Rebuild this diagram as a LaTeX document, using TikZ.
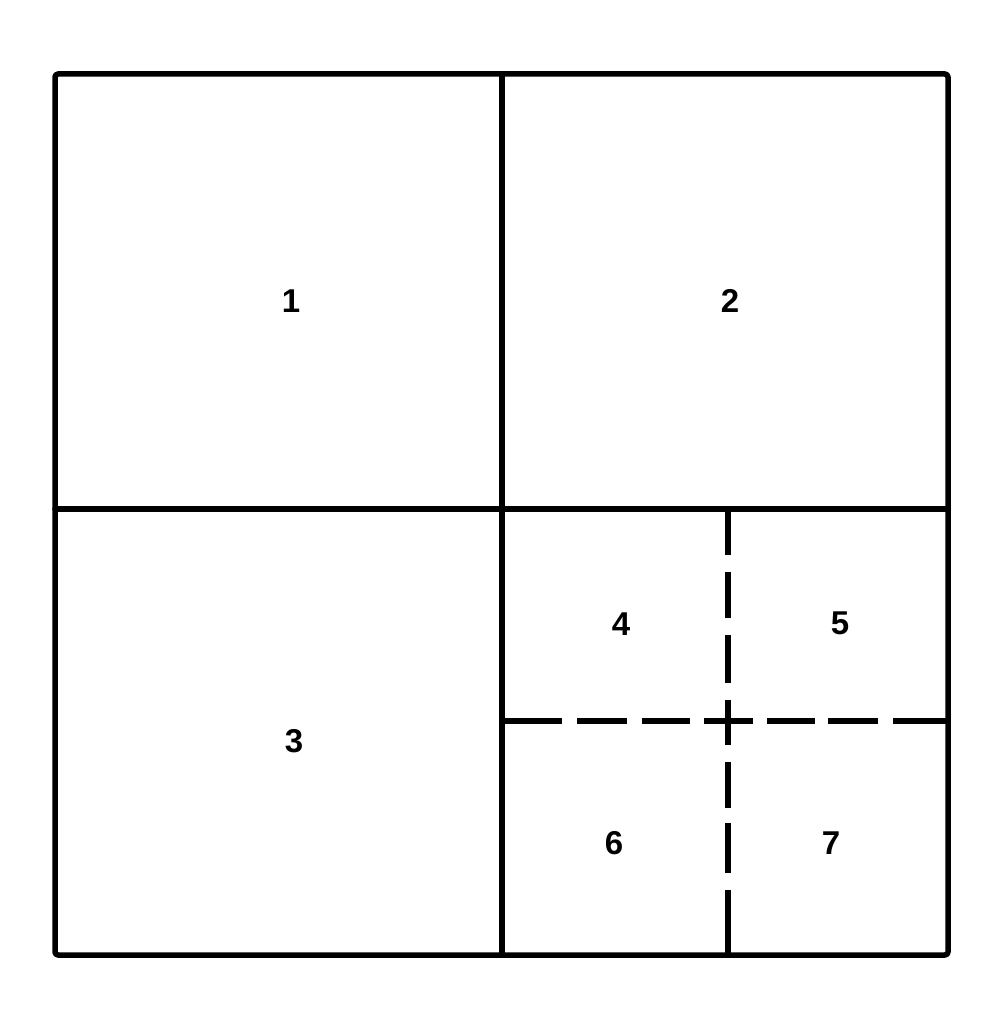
\documentclass[tikz,border=0pt]{standalone}
\usepackage{fontspec}
\setmainfont{Liberation Sans}
\usepackage{tikz}

\begin{document}
\begin{tikzpicture}[x=1pt,y=-1pt,line width=5.5pt,line cap=round,line join=round,
  wall/.style={draw=black},
  cutv/.style={draw=black,dash pattern=on 45pt off 17pt on 46pt off 17pt on 48pt off 17pt on 45pt off 17pt on 46pt off 15pt on 50pt off 17pt on 70pt off 1pt},
  cuth/.style={draw=black,dash pattern=on 57pt off 15pt on 50pt off 15pt on 48pt off 14pt on 49pt off 14pt on 48pt off 13pt on 50pt off 15pt on 60pt off 1pt},
  num/.style={inner sep=0pt,font=\fontsize{33}{33}\selectfont\bfseries}]
\useasboundingbox (0,0) rectangle (983,1011);
% outer frame and the four quarters
\draw[wall,rounded corners=3pt] (55,74) rectangle (948,955);
\draw[wall] (502,74) -- (502,955);
\draw[wall] (55,509) -- (948,509);
% dashed split of quarter 4
\draw[cuth,line cap=butt] (505,721) -- (947,721);
\draw[cutv,line cap=butt] (728,510) -- (728,953);
% labels
\node[num] (q1) at (291,301) {1};
\node[num] (q2) at (730,301) {2};
\node[num] (q3) at (294,741) {3};
\node[num] (q4) at (621,624) {4};
\node[num] (q5) at (840,623) {5};
\node[num] (q6) at (614,843) {6};
\node[num] (q7) at (831,843) {7};
\end{tikzpicture}
\end{document}
